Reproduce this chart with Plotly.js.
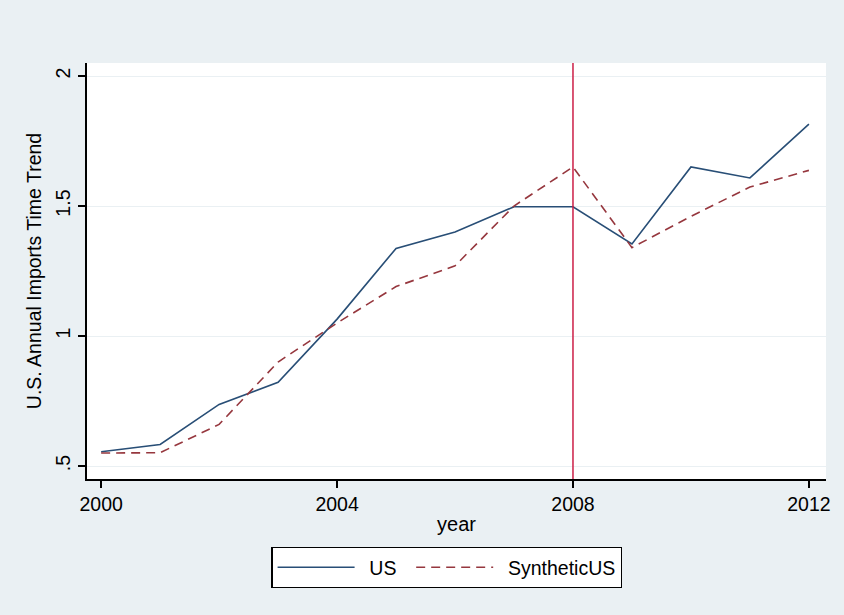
<!DOCTYPE html>
<html>
<head>
<meta charset="utf-8">
<script src="https://cdn.plot.ly/plotly-3.0.1.min.js"></script>
<style>html,body{margin:0;padding:0;background:#eaf0f3;}#chart{width:844px;height:615px;}</style>
</head>
<body>
<div id="chart"></div>
<script>
const years = [2000, 2001, 2002, 2003, 2004, 2005, 2006, 2007, 2008, 2009, 2010, 2011, 2012];
const us = [0.555, 0.583, 0.737, 0.822, 1.065, 1.337, 1.40, 1.497, 1.497, 1.354, 1.65, 1.608, 1.815];
const syntheticUS = [0.55, 0.551, 0.66, 0.90, 1.05, 1.19, 1.27, 1.50, 1.65, 1.34, 1.46, 1.573, 1.637];
const seriesNames = ['US', 'SyntheticUS'];
const treatYear = 2008;
const xTicks = [2000, 2004, 2008, 2012];
const yTicks = [0.5, 1, 1.5, 2];
const yTickText = ['.5', '1', '1.5', '2'];

const font = 'Liberation Sans, Arial, sans-serif';
const sp = '\u2002';
const traces = [
  {x: years, y: us, name: sp + seriesNames[0] + sp, type: 'scatter', mode: 'lines',
   line: {color: 'rgb(40,78,118)', width: 1.6}},
  {x: years, y: syntheticUS, name: sp + seriesNames[1], type: 'scatter', mode: 'lines',
   line: {color: 'rgb(150,55,62)', width: 1.6, dash: '9px,6px'}}
];
const layout = {
  width: 844, height: 615,
  paper_bgcolor: '#eaf0f3', plot_bgcolor: '#ffffff',
  margin: {l: 87, r: 18, t: 63, b: 136},
  font: {family: font, size: 19.5, color: '#000'},
  showlegend: true,
  xaxis: {range: [1999.76, 2012.29], tickvals: xTicks, ticks: 'outside', ticklen: 7, tickwidth: 1.5,
          tickcolor: '#000', showline: true, linecolor: '#000', linewidth: 1.5, showgrid: false,
          zeroline: false, tickfont: {size: 19.5, family: font}, title: {text: 'year', font: {size: 20, family: font}, standoff: 3}},
  yaxis: {range: [0.45, 2.05], tickvals: yTicks, ticktext: yTickText, tickangle: -90, ticks: 'outside', ticklen: 7,
          tickwidth: 1.5, tickcolor: '#000', showline: true, linecolor: '#000', linewidth: 1.5,
          showgrid: true, gridcolor: '#eaf0f3', gridwidth: 1.2, zeroline: false,
          tickfont: {size: 19.5, family: font},
          title: {text: 'U.S. Annual Imports Time Trend', font: {size: 19.5, family: font}, standoff: 6}},
  shapes: [{type: 'line', xref: 'x', yref: 'paper', x0: treatYear, x1: treatYear, y0: 0, y1: 1,
            line: {color: 'rgb(204,30,70)', width: 1.5}}],
  legend: {orientation: 'h', x: 0.487, xanchor: 'center', y: -0.163, yanchor: 'top',
           bgcolor: '#ffffff', bordercolor: '#000', borderwidth: 1.2, itemwidth: 77,
           font: {size: 19.5, family: font}}
};
Plotly.newPlot('chart', traces, layout, {displayModeBar: false});
</script>
</body>
</html>
